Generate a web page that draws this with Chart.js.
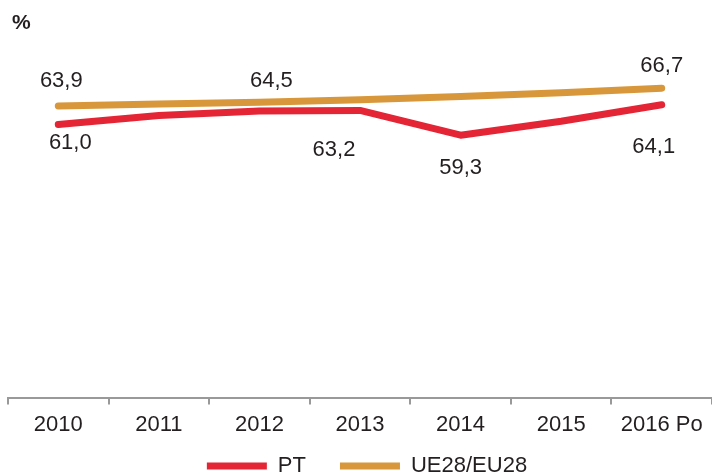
<!DOCTYPE html>
<html>
<head>
<meta charset="utf-8">
<script src="https://cdn.jsdelivr.net/npm/chart.js@4"></script>
<style>
  html, body { margin: 0; padding: 0; background: #fff; overflow: hidden; }
  #wrap { width: 712px; height: 475px; }
</style>
</head>
<body>
<div id="wrap"><canvas id="chart"></canvas></div>
<script>
var years = ['2010', '2011', '2012', '2013', '2014', '2015', '2016 Po'];
var ptValues = [61.0, 62.4, 63.1, 63.2, 59.3, 61.5, 64.1];
var euValues = [63.9, 64.2, 64.5, 64.9, 65.4, 66.0, 66.7];
var unitLabel = '%';

// which points get a value label, and where it sits relative to the point
var labelSpots = {
    0: { 0: [12, 19], 3: [-26, 40], 4: [0, 33], 6: [-8, 42] },
    1: { 0: [3, -25], 2: [12, -21], 6: [0, -22] }
};

var FONT = '"Liberation Sans", Arial, sans-serif';

var valueLabels = {
    id: 'valueLabels',
    afterLayout: function (chart) {
        // wide item spacing in the legend, but keep it tucked under the axis
        var lg = chart.legend;
        lg.top -= 24;
        lg.bottom -= 24;
        lg.left += 7;
        lg.right += 7;
    },
    afterDatasetsDraw: function (chart) {
        var ctx = chart.ctx;
        ctx.save();
        ctx.fillStyle = '#231f20';
        ctx.textBaseline = 'middle';
        // unit in the top left corner
        ctx.font = 'bold 21px ' + FONT;
        ctx.textAlign = 'left';
        ctx.fillText(unitLabel, 12, 23);

        ctx.font = '22px ' + FONT;
        ctx.textAlign = 'center';
        chart.data.datasets.forEach(function (ds, di) {
            var spots = labelSpots[di] || {};
            var meta = chart.getDatasetMeta(di);
            Object.keys(spots).forEach(function (i) {
                var pt = meta.data[i];
                var txt = ds.data[i].toFixed(1).replace('.', ',');
                ctx.fillText(txt, pt.x + spots[i][0], pt.y + spots[i][1]);
            });
        });
        ctx.restore();
    }
};

new Chart(document.getElementById('chart'), {
    type: 'line',
    data: {
        labels: years,
        datasets: [{
            label: 'PT',
            data: ptValues,
            borderColor: '#e42535',
            backgroundColor: '#e42535',
            borderWidth: 7,
            borderCapStyle: 'round',
            borderJoinStyle: 'round',
            pointRadius: 0,
            pointStyle: 'line',
            tension: 0
        }, {
            label: 'UE28/EU28',
            data: euValues,
            borderColor: '#d8973a',
            backgroundColor: '#d8973a',
            borderWidth: 7,
            borderCapStyle: 'round',
            borderJoinStyle: 'round',
            pointRadius: 0,
            pointStyle: 'line',
            tension: 0
        }]
    },
    options: {
        responsive: true,
        maintainAspectRatio: false,
        animation: false,
        layout: { padding: { left: 8, right: 0, top: 38, bottom: -36 } },
        plugins: {
            legend: {
                position: 'bottom',
                labels: {
                    usePointStyle: true,
                    pointStyleWidth: 60,
                    boxHeight: 7,
                    padding: 34,
                    color: '#231f20',
                    font: { family: FONT, size: 22 }
                }
            },
            tooltip: { enabled: false }
        },
        scales: {
            x: {
                offset: true,
                border: { display: true, color: '#999999', width: 2 },
                grid: { display: true, drawOnChartArea: false, color: '#999999', lineWidth: 2, tickLength: 7, offset: true },
                ticks: {
                    color: '#231f20',
                    padding: 7,
                    maxRotation: 0,
                    font: { family: FONT, size: 22 }
                }
            },
            y: {
                display: false,
                min: 18,
                max: 74.6
            }
        }
    },
    plugins: [valueLabels]
});
</script>
</body>
</html>
